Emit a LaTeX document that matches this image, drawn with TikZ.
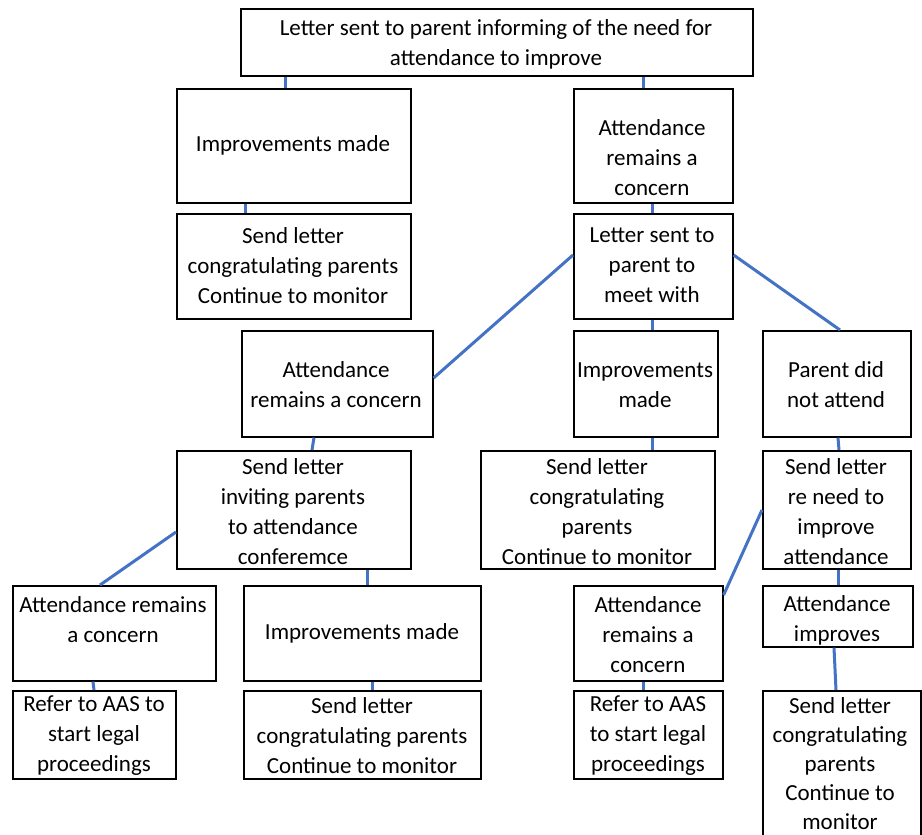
\documentclass[tikz,border=0pt]{standalone}
\usepackage{fontspec}
\setmainfont{Carlito}
\usetikzlibrary{calc}
\tikzset{
  box/.style={draw=black, line width=1.6pt, anchor=north west, inner sep=0pt, fill=white},
  txt/.style={align=center, inner sep=0pt, font=\fontsize{23}{30}\selectfont},
  conn/.style={draw={rgb,255:red,68;green,114;blue,196}, line width=3pt},
}
\begin{document}
\begin{tikzpicture}[x=1pt,y=-1pt]
\useasboundingbox (0,0) rectangle (922,835);
% row 0
\node[box, minimum width=512pt, minimum height=67pt] (b0) at (240,8) {};
\node[txt] (t0) at (496,44) {Letter sent to parent informing of the need for\\attendance to improve};
% row 1
\node[box, minimum width=234pt, minimum height=114pt] (b1) at (176,88) {};
\node[txt] (t1) at (293,145) {Improvements made};
\node[box, minimum width=159pt, minimum height=114pt] (b2) at (573,88) {};
\node[txt] (t2) at (652,158) {Attendance\\remains a\\concern};
% row 2
\node[box, minimum width=234pt, minimum height=105pt] (b3) at (176,213) {};
\node[txt] (t3) at (293,266) {Send letter\\congratulating parents\\Continue to monitor};
\node[box, minimum width=159pt, minimum height=105pt] (b4) at (573,213) {};
\node[txt] (t4) at (652,265) {Letter sent to\\parent to\\meet with};
% row 3
\node[box, minimum width=191pt, minimum height=106pt] (b5) at (241,330) {};
\node[txt] (t5) at (336,385) {Attendance\\remains a concern};
\node[box, minimum width=144pt, minimum height=106pt] (b6) at (573,330) {};
\node[txt] (t6) at (645,385) {Improvements\\made};
\node[box, minimum width=148pt, minimum height=106pt] (b7) at (762,330) {};
\node[txt] (t7) at (836,385) {Parent did\\not attend};
% row 4
\node[box, minimum width=234pt, minimum height=118pt] (b8) at (176,450) {};
\node[txt] (t8) at (293,512) {Send letter\\inviting parents\\to attendance\\conferemce};
\node[box, minimum width=234pt, minimum height=118pt] (b9) at (480,450) {};
\node[txt] (t9) at (597,512) {Send letter\\congratulating\\parents\\Continue to monitor};
\node[box, minimum width=148pt, minimum height=118pt] (b10) at (762,450) {};
\node[txt] (t10) at (836,512) {Send letter\\re need to\\improve\\attendance};
% row 5
\node[box, minimum width=203pt, minimum height=95pt] (b11) at (12,585) {};
\node[txt] (t11) at (113,620) {Attendance remains\\a concern};
\node[box, minimum width=237pt, minimum height=95pt] (b12) at (243,585) {};
\node[txt] (t12) at (362,633) {Improvements made};
\node[box, minimum width=149pt, minimum height=95pt] (b13) at (573,585) {};
\node[txt] (t13) at (648,635) {Attendance\\remains a\\concern};
\node[box, minimum width=150pt, minimum height=61pt] (b14) at (762,585) {};
\node[txt] (t14) at (837,620) {Attendance\\improves};
% row 6
\node[box, minimum width=163pt, minimum height=88pt] (b15) at (12,690) {};
\node[txt] (t15) at (94,736) {Refer to AAS to\\start legal\\proceedings};
\node[box, minimum width=237pt, minimum height=88pt] (b16) at (243,690) {};
\node[txt] (t16) at (362,736) {Send letter\\congratulating parents\\Continue to monitor};
\node[box, minimum width=149pt, minimum height=88pt] (b17) at (573,690) {};
\node[txt] (t17) at (648,736) {Refer to AAS\\to start legal\\proceedings};
\node[box, minimum width=158pt, minimum height=150pt] (b18) at (762,690) {};
\node[txt, font=\fontsize{23}{29}\selectfont] (t18) at (840,764) {Send letter\\congratulating\\parents\\Continue to\\monitor};
% connectors
\draw[conn] ($(b0.south west)+(45,0)$) -- ($(b1.north west)+(109,0)$);
\draw[conn] ($(b0.south west)+(403,0)$) -- ($(b2.north west)+(70,0)$);
\draw[conn] ($(b1.south west)+(69,0)$) -- ($(b3.north west)+(69,0)$);
\draw[conn] ($(b2.south west)+(79,0)$) -- ($(b4.north west)+(79,0)$);
\draw[conn] ($(b4.north west)+(0,42)$) -- ($(b5.north east)+(0,48)$);
\draw[conn] ($(b4.north east)+(0,42)$) -- ($(b7.north west)+(78,0)$);
\draw[conn] ($(b4.south west)+(79,0)$) -- ($(b6.north west)+(79,0)$);
\draw[conn] ($(b5.south west)+(73,0)$) -- ($(b8.north west)+(136,0)$);
\draw[conn] ($(b6.south west)+(79,0)$) -- ($(b9.north west)+(172,0)$);
\draw[conn] ($(b7.south west)+(76,0)$) -- ($(b10.north west)+(77,0)$);
\draw[conn] ($(b8.north west)+(0,82)$) -- ($(b11.north west)+(88,0)$);
\draw[conn] ($(b8.south west)+(191,0)$) -- ($(b12.north west)+(124,0)$);
\draw[conn] ($(b10.north west)+(0,60)$) -- ($(b13.north east)+(0,10)$);
\draw[conn] ($(b10.south west)+(76,0)$) -- ($(b14.north west)+(76,0)$);
\draw[conn] ($(b11.south west)+(81,0)$) -- ($(b15.north west)+(82,0)$);
\draw[conn] ($(b12.south west)+(129,0)$) -- ($(b16.north west)+(129,0)$);
\draw[conn] ($(b13.south west)+(70,0)$) -- ($(b17.north west)+(70,0)$);
\draw[conn] ($(b14.south west)+(72,0)$) -- ($(b18.north west)+(74,0)$);
\end{tikzpicture}
\end{document}
